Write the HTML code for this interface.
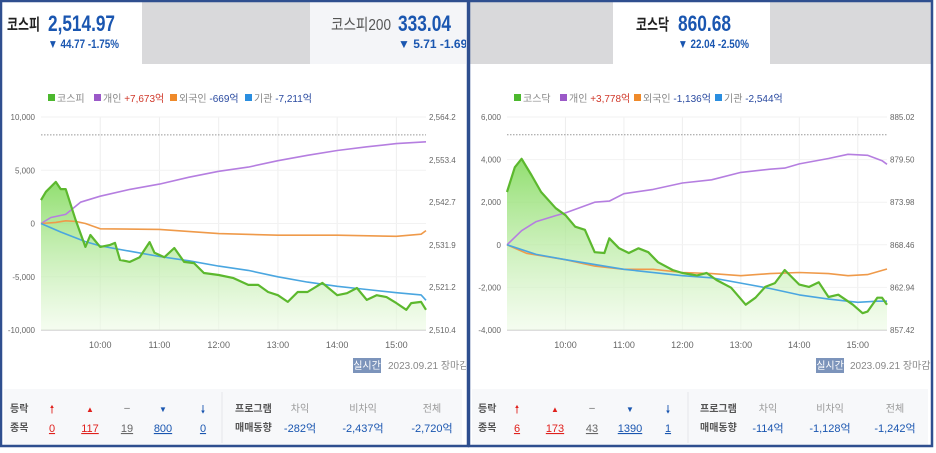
<!DOCTYPE html>
<html><head><meta charset="utf-8">
<style>
html,body{margin:0;padding:0;background:#fff;}
svg{display:block;font-family:"Liberation Sans","Noto Sans CJK KR",sans-serif;}
.nar{font-family:"Liberation Sans Narrow","Liberation Sans","Noto Sans CJK KR",sans-serif;}
</style></head>
<body>
<svg id="root" width="936" height="453" viewBox="0 0 936 453" xmlns="http://www.w3.org/2000/svg">
<defs>
<linearGradient id="gfill" x1="0" y1="0" x2="0" y2="1">
<stop offset="0" stop-color="#7ed957" stop-opacity="0.85"/>
<stop offset="1" stop-color="#eefbe6" stop-opacity="0.6"/>
</linearGradient>
<clipPath id="clipL"><rect x="0" y="0" width="466" height="453"/></clipPath>
<clipPath id="clipR"><rect x="470" y="0" width="462" height="453"/></clipPath>
</defs>

<!-- LEFT PANEL -->
<g clip-path="url(#clipL)">
<rect x="0" y="0" width="468" height="447" fill="#fff"/>
<rect x="142" y="2" width="168" height="62" fill="#d9d9db"/>
<rect x="310" y="2" width="158" height="62" fill="#f4f5f8"/>
<g>
<text x="7" y="30" font-size="16" font-weight="bold" fill="#222" textLength="33" lengthAdjust="spacingAndGlyphs">코스피</text>
<text class="nar" x="48" y="31" font-size="22" font-weight="bold" fill="#1a56b0" textLength="67" lengthAdjust="spacingAndGlyphs">2,514.97</text>
<text class="nar" x="48" y="48" font-size="12" font-weight="bold" fill="#1a56b0" textLength="71" lengthAdjust="spacingAndGlyphs">▼ 44.77 -1.75%</text>
</g>
<text x="331" y="30" font-size="16" fill="#555" textLength="60" lengthAdjust="spacingAndGlyphs">코스피200</text>
<text class="nar" x="398" y="31" font-size="22" font-weight="bold" fill="#1a56b0" textLength="53" lengthAdjust="spacingAndGlyphs">333.04</text>
<text class="nar" x="398" y="48" font-size="12" font-weight="bold" fill="#1a56b0">▼ 5.71 -1.69%</text>
<g id="legendL"></g>
<g id="chartL"></g>
<rect x="353" y="358" width="28" height="15" fill="#7c94bb"/>
<text x="367" y="369" font-size="10" fill="#fff" text-anchor="middle">실시간</text>
<text x="388" y="369" font-size="10" fill="#888">2023.09.21 장마감</text>
<g>
<rect x="4" y="389" width="458" height="56" fill="#f7f8fa"/>
<line x1="222" y1="392" x2="222" y2="443" stroke="#e4e6ea"/>
<text x="10" y="412" font-size="10" font-weight="bold" fill="#555">등락</text>
<text x="10" y="431" font-size="10" font-weight="bold" fill="#555">종목</text>
<text x="52" y="413" font-size="11" fill="#e0201c" text-anchor="middle">🠕</text>
<text x="90" y="412" font-size="8" fill="#e0201c" text-anchor="middle">▲</text>
<text x="127" y="411" font-size="10" fill="#666" text-anchor="middle">–</text>
<text x="163" y="412" font-size="8" fill="#1a56b0" text-anchor="middle">▼</text>
<text x="203" y="413" font-size="11" fill="#1a56b0" text-anchor="middle">🠗</text>
<text x="52" y="432" font-size="11" fill="#e0201c" text-anchor="middle" text-decoration="underline">0</text>
<text x="90" y="432" font-size="11" fill="#e0201c" text-anchor="middle" text-decoration="underline">117</text>
<text x="127" y="432" font-size="11" fill="#666" text-anchor="middle" text-decoration="underline">19</text>
<text x="163" y="432" font-size="11" fill="#1a56b0" text-anchor="middle" text-decoration="underline">800</text>
<text x="203" y="432" font-size="11" fill="#1a56b0" text-anchor="middle" text-decoration="underline">0</text>
<text x="235" y="412" font-size="10" font-weight="bold" fill="#555">프로그램</text>
<text x="235" y="431" font-size="10" font-weight="bold" fill="#555">매매동향</text>
<text x="300" y="412" font-size="10" fill="#999" text-anchor="middle">차익</text>
<text x="363" y="412" font-size="10" fill="#999" text-anchor="middle">비차익</text>
<text x="432" y="412" font-size="10" fill="#999" text-anchor="middle">전체</text>
<text x="300" y="432" font-size="11" fill="#1a56b0" text-anchor="middle">-282억</text>
<text x="363" y="432" font-size="11" fill="#1a56b0" text-anchor="middle">-2,437억</text>
<text x="432" y="432" font-size="11" fill="#1a56b0" text-anchor="middle">-2,720억</text>
</g>
</g>

<!-- RIGHT PANEL -->
<g clip-path="url(#clipR)">
<rect x="468" y="0" width="466" height="447" fill="#fff"/>
<rect x="468" y="2" width="145" height="62" fill="#d9d9db"/>
<rect x="770" y="2" width="164" height="62" fill="#d9d9db"/>
<g>
<text x="636" y="30" font-size="16" font-weight="bold" fill="#222" textLength="33" lengthAdjust="spacingAndGlyphs">코스닥</text>
<text class="nar" x="678" y="31" font-size="22" font-weight="bold" fill="#1a56b0" textLength="53" lengthAdjust="spacingAndGlyphs">860.68</text>
<text class="nar" x="678" y="48" font-size="12" font-weight="bold" fill="#1a56b0" textLength="71" lengthAdjust="spacingAndGlyphs">▼ 22.04 -2.50%</text>
</g>
<g id="legendR"></g>
<g id="chartR"></g>
<rect x="816" y="358" width="28" height="15" fill="#7c94bb"/>
<text x="830" y="369" font-size="10" fill="#fff" text-anchor="middle">실시간</text>
<text x="850" y="369" font-size="10" fill="#888">2023.09.21 장마감</text>
<g>
<rect x="472" y="389" width="456" height="56" fill="#f7f8fa"/>
<line x1="688" y1="392" x2="688" y2="443" stroke="#e4e6ea"/>
<text x="478" y="412" font-size="10" font-weight="bold" fill="#555">등락</text>
<text x="478" y="431" font-size="10" font-weight="bold" fill="#555">종목</text>
<text x="517" y="413" font-size="11" fill="#e0201c" text-anchor="middle">🠕</text>
<text x="555" y="412" font-size="8" fill="#e0201c" text-anchor="middle">▲</text>
<text x="592" y="411" font-size="10" fill="#666" text-anchor="middle">–</text>
<text x="630" y="412" font-size="8" fill="#1a56b0" text-anchor="middle">▼</text>
<text x="668" y="413" font-size="11" fill="#1a56b0" text-anchor="middle">🠗</text>
<text x="517" y="432" font-size="11" fill="#e0201c" text-anchor="middle" text-decoration="underline">6</text>
<text x="555" y="432" font-size="11" fill="#e0201c" text-anchor="middle" text-decoration="underline">173</text>
<text x="592" y="432" font-size="11" fill="#666" text-anchor="middle" text-decoration="underline">43</text>
<text x="630" y="432" font-size="11" fill="#1a56b0" text-anchor="middle" text-decoration="underline">1390</text>
<text x="668" y="432" font-size="11" fill="#1a56b0" text-anchor="middle" text-decoration="underline">1</text>
<text x="700" y="412" font-size="10" font-weight="bold" fill="#555">프로그램</text>
<text x="700" y="431" font-size="10" font-weight="bold" fill="#555">매매동향</text>
<text x="768" y="412" font-size="10" fill="#999" text-anchor="middle">차익</text>
<text x="830" y="412" font-size="10" fill="#999" text-anchor="middle">비차익</text>
<text x="895" y="412" font-size="10" fill="#999" text-anchor="middle">전체</text>
<text x="768" y="432" font-size="11" fill="#1a56b0" text-anchor="middle">-114억</text>
<text x="830" y="432" font-size="11" fill="#1a56b0" text-anchor="middle">-1,128억</text>
<text x="895" y="432" font-size="11" fill="#1a56b0" text-anchor="middle">-1,242억</text>
</g>
</g>

<!-- borders -->
<rect x="1" y="1" width="467" height="445" fill="none" stroke="#2f4f8f" stroke-width="2.5"/>
<rect x="469" y="1" width="463" height="445" fill="none" stroke="#2f4f8f" stroke-width="2.5"/>
</svg>

<script>
// ---- time categories (minutes since 09:00) ----
const hourTicks = [60,120,180,240,300,360];
const hourLabels = ["10:00","11:00","12:00","13:00","14:00","15:00"];

// ---- KOSPI data ----
const kospiLeftTicks = [10000,5000,0,-5000,-10000];
const kospiLeftLabels = ["10,000","5,000","0","-5,000","-10,000"];
const kospiRightTicks = [2564.2,2553.4,2542.7,2531.9,2521.2,2510.4];
const kospiRightLabels = ["2,564.2","2,553.4","2,542.7","2,531.9","2,521.2","2,510.4"];
const kospiIdxT = [0,5,15,20,25,35,45,50,60,70,75,80,90,100,110,115,125,135,145,155,165,180,195,210,220,230,240,250,260,270,285,300,310,320,330,340,350,360,370,375,385,390];
const kospiIdxV = [2543.2,2545.3,2547.8,2546,2546,2538.2,2531.4,2534.4,2531.4,2531.9,2532.4,2528.1,2527.6,2528.8,2532.6,2529.9,2528.8,2531.1,2527.6,2527.3,2524.8,2524.3,2523.5,2521.8,2521.8,2520,2519.2,2517.5,2520,2520,2522.3,2519.2,2519.7,2521,2518,2519.2,2518.7,2517.2,2515.5,2517.2,2517.5,2515.5];
const kospiPrevClose = 2559.7;
const kospiIndivT = [0,10,25,40,60,90,120,150,180,210,240,270,300,330,360,390];
const kospiIndivV = [0,560,850,2000,2560,3200,3700,4350,4900,5300,5900,6400,6850,7200,7500,7673];
const kospiForT = [0,15,25,35,45,60,120,180,240,300,360,385,390];
const kospiForV = [0,100,250,200,0,-500,-550,-950,-1100,-1100,-1200,-1000,-669];
const kospiInstT = [0,20,45,60,90,120,150,180,210,240,270,300,330,360,385,390];
const kospiInstV = [0,-800,-1700,-2100,-2600,-3100,-3500,-4000,-4400,-5000,-5500,-5900,-6200,-6500,-6700,-7211];

// ---- KOSDAQ data ----
const kosdaqLeftTicks = [6000,4000,2000,0,-2000,-4000];
const kosdaqLeftLabels = ["6,000","4,000","2,000","0","-2,000","-4,000"];
const kosdaqRightTicks = [885.02,879.50,873.98,868.46,862.94,857.42];
const kosdaqRightLabels = ["885.02","879.50","873.98","868.46","862.94","857.42"];
const kosdaqIdxT = [0,8,15,25,35,50,60,70,80,90,100,105,115,125,135,145,155,170,180,195,205,215,230,245,255,265,275,285,300,310,320,330,340,355,365,370,380,385,390];
const kosdaqIdxV = [875.3,878.5,879.6,877.5,875.3,873.2,872.3,870.8,870.4,867.5,867.4,869.3,868.0,867.4,868.0,867.5,866.2,865.2,864.8,864.5,864.8,863.9,862.9,860.7,861.6,863.0,863.5,865.2,863.3,863.0,863.6,861.7,862.0,860.7,859.6,859.8,861.6,861.6,860.7];
const kosdaqPrevClose = 882.72;
const kosdaqIndivT = [0,15,30,50,60,90,105,120,150,180,210,240,270,285,300,330,350,370,385,390];
const kosdaqIndivV = [0,660,1090,1370,1500,2000,2050,2400,2600,2900,3050,3400,3550,3600,3800,4050,4250,4200,3950,3778];
const kosdaqForT = [0,20,60,90,120,150,180,210,240,270,300,330,350,370,390];
const kosdaqForV = [0,-400,-700,-1000,-1150,-1150,-1300,-1350,-1450,-1350,-1300,-1350,-1450,-1400,-1136];
const kosdaqInstT = [0,30,60,120,180,210,240,270,300,330,360,380,390];
const kosdaqInstV = [0,-450,-700,-1150,-1450,-1550,-1800,-2050,-2350,-2550,-2700,-2650,-2650];

const NS = "http://www.w3.org/2000/svg";
function mk(tag, attrs, parent){
  const e = document.createElementNS(NS, tag);
  for (const k in attrs) e.setAttribute(k, attrs[k]);
  parent.appendChild(e);
  return e;
}

function drawChart(g, cfg){
  const xS = t => cfg.x0 + (cfg.x1 - cfg.x0) * t / 390;
  const yL = v => cfg.yTop + (cfg.lMax - v) / (cfg.lMax - cfg.lMin) * (cfg.yBot - cfg.yTop);
  const yR = v => cfg.yTop + (cfg.rMax - v) / (cfg.rMax - cfg.rMin) * (cfg.yBot - cfg.yTop);
  hourTicks.forEach((t,i) => {
    const l = mk("line",{x1:xS(t),x2:xS(t),y1:cfg.yTop,y2:cfg.yBot,stroke:"#eeeeee"},g);
    
    
    const tx = mk("text",{x:xS(t),y:cfg.yBot+18,"font-size":9,fill:"#666","text-anchor":"middle"},g);
    
    
    tx.textContent = hourLabels[i];
  });
  cfg.lTicks.forEach((v,i) => {
    const y = yL(v);
    const l = mk("line",{x1:cfg.x0,x2:cfg.x1,y1:y,y2:y,stroke:"#f2f2f2"},g);
    
    
    const tx = mk("text",{x:cfg.x0-6,y:y+3,"font-size":8,fill:"#666","text-anchor":"end"},g);
    
    
    tx.textContent = cfg.lLabels[i];
  });
  cfg.rTicks.forEach((v,i) => {
    const tx = mk("text",{x:cfg.x1+3,y:yR(v)+3,"font-size":8,fill:"#666"},g);
    
    
    tx.textContent = cfg.rLabels[i];
  });
  const ax = mk("line",{x1:cfg.x0,x2:cfg.x1,y1:cfg.yBot,y2:cfg.yBot,stroke:"#bbb"},g);
  
  
  const pc = mk("line",{x1:cfg.x0,x2:cfg.x1,y1:yR(cfg.prev),y2:yR(cfg.prev),stroke:"#999","stroke-dasharray":"1.5,1.5"},g);
  
  
  let d = cfg.idxT.map((t,i)=>(i?"L":"M")+xS(t).toFixed(1)+","+yR(cfg.idxV[i]).toFixed(1)).join(" ");
  const area = mk("path",{d: d+" L"+xS(cfg.idxT[cfg.idxT.length-1])+","+cfg.yBot+" L"+xS(0)+","+cfg.yBot+" Z",fill:"url(#gfill)"},g);
  
  
  const series = [
    [cfg.indT,cfg.indV,"#b57ee0",1.6,"individual-line"],
    [cfg.forT,cfg.forV,"#ef9a4a",1.6,"foreign-line"],
    [cfg.insT,cfg.insV,"#4aa6e0",1.6,"institution-line"]
  ];
  series.forEach(s=>{
    const p = mk("path",{d:s[0].map((t,i)=>(i?"L":"M")+xS(t).toFixed(1)+","+yL(s[1][i]).toFixed(1)).join(" "),fill:"none",stroke:s[2],"stroke-width":s[3],"stroke-linejoin":"round"},g);
    
    
  });
  const il = mk("path",{d:d,fill:"none",stroke:"#5cb82e","stroke-width":2.2,"stroke-linejoin":"round"},g);
  
  
}

function drawLegend(g, x, y, items){
  let cx = x;
  items.forEach(it=>{
    const r = mk("rect",{x:cx,y:y-8,width:7,height:7,fill:it.c},g);
    
    
    const t = mk("text",{x:cx+9,y:y,"font-size":10,fill:"#888"},g);
    
    
    t.textContent = it.n + " ";
    if (it.v){
      const s = mk("tspan",{fill:it.vc},t);
      s.textContent = it.v;
    }
    cx += it.w;
  });
}

drawLegend(document.getElementById("legendL"), 48, 102, [
  {c:"#4cb82e",n:"코스피",w:46},
  {c:"#9b59c8",n:"개인",v:"+7,673억",vc:"#d0392b",w:76},
  {c:"#ef8a2a",n:"외국인",v:"-669억",vc:"#2a4aa0",w:75},
  {c:"#2a8ee0",n:"기관",v:"-7,211억",vc:"#2a4aa0",w:80}
]);
drawLegend(document.getElementById("legendR"), 514, 102, [
  {c:"#4cb82e",n:"코스닥",w:46},
  {c:"#9b59c8",n:"개인",v:"+3,778억",vc:"#d0392b",w:74},
  {c:"#ef8a2a",n:"외국인",v:"-1,136억",vc:"#2a4aa0",w:81},
  {c:"#2a8ee0",n:"기관",v:"-2,544억",vc:"#2a4aa0",w:80}
]);

drawChart(document.getElementById("chartL"), {
  x0:41, x1:426, yTop:117, yBot:330,
  lMax:10000, lMin:-10000, rMax:2564.2, rMin:2510.4,
  lTicks:kospiLeftTicks, lLabels:kospiLeftLabels, rTicks:kospiRightTicks, rLabels:kospiRightLabels,
  prev:kospiPrevClose, idxT:kospiIdxT, idxV:kospiIdxV,
  indT:kospiIndivT, indV:kospiIndivV, forT:kospiForT, forV:kospiForV, insT:kospiInstT, insV:kospiInstV
});
drawChart(document.getElementById("chartR"), {
  x0:507, x1:887, yTop:117, yBot:330,
  lMax:6000, lMin:-4000, rMax:885.02, rMin:857.42,
  lTicks:kosdaqLeftTicks, lLabels:kosdaqLeftLabels, rTicks:kosdaqRightTicks, rLabels:kosdaqRightLabels,
  prev:kosdaqPrevClose, idxT:kosdaqIdxT, idxV:kosdaqIdxV,
  indT:kosdaqIndivT, indV:kosdaqIndivV, forT:kosdaqForT, forV:kosdaqForV, insT:kosdaqInstT, insV:kosdaqInstV
});
</script>
</body></html>
